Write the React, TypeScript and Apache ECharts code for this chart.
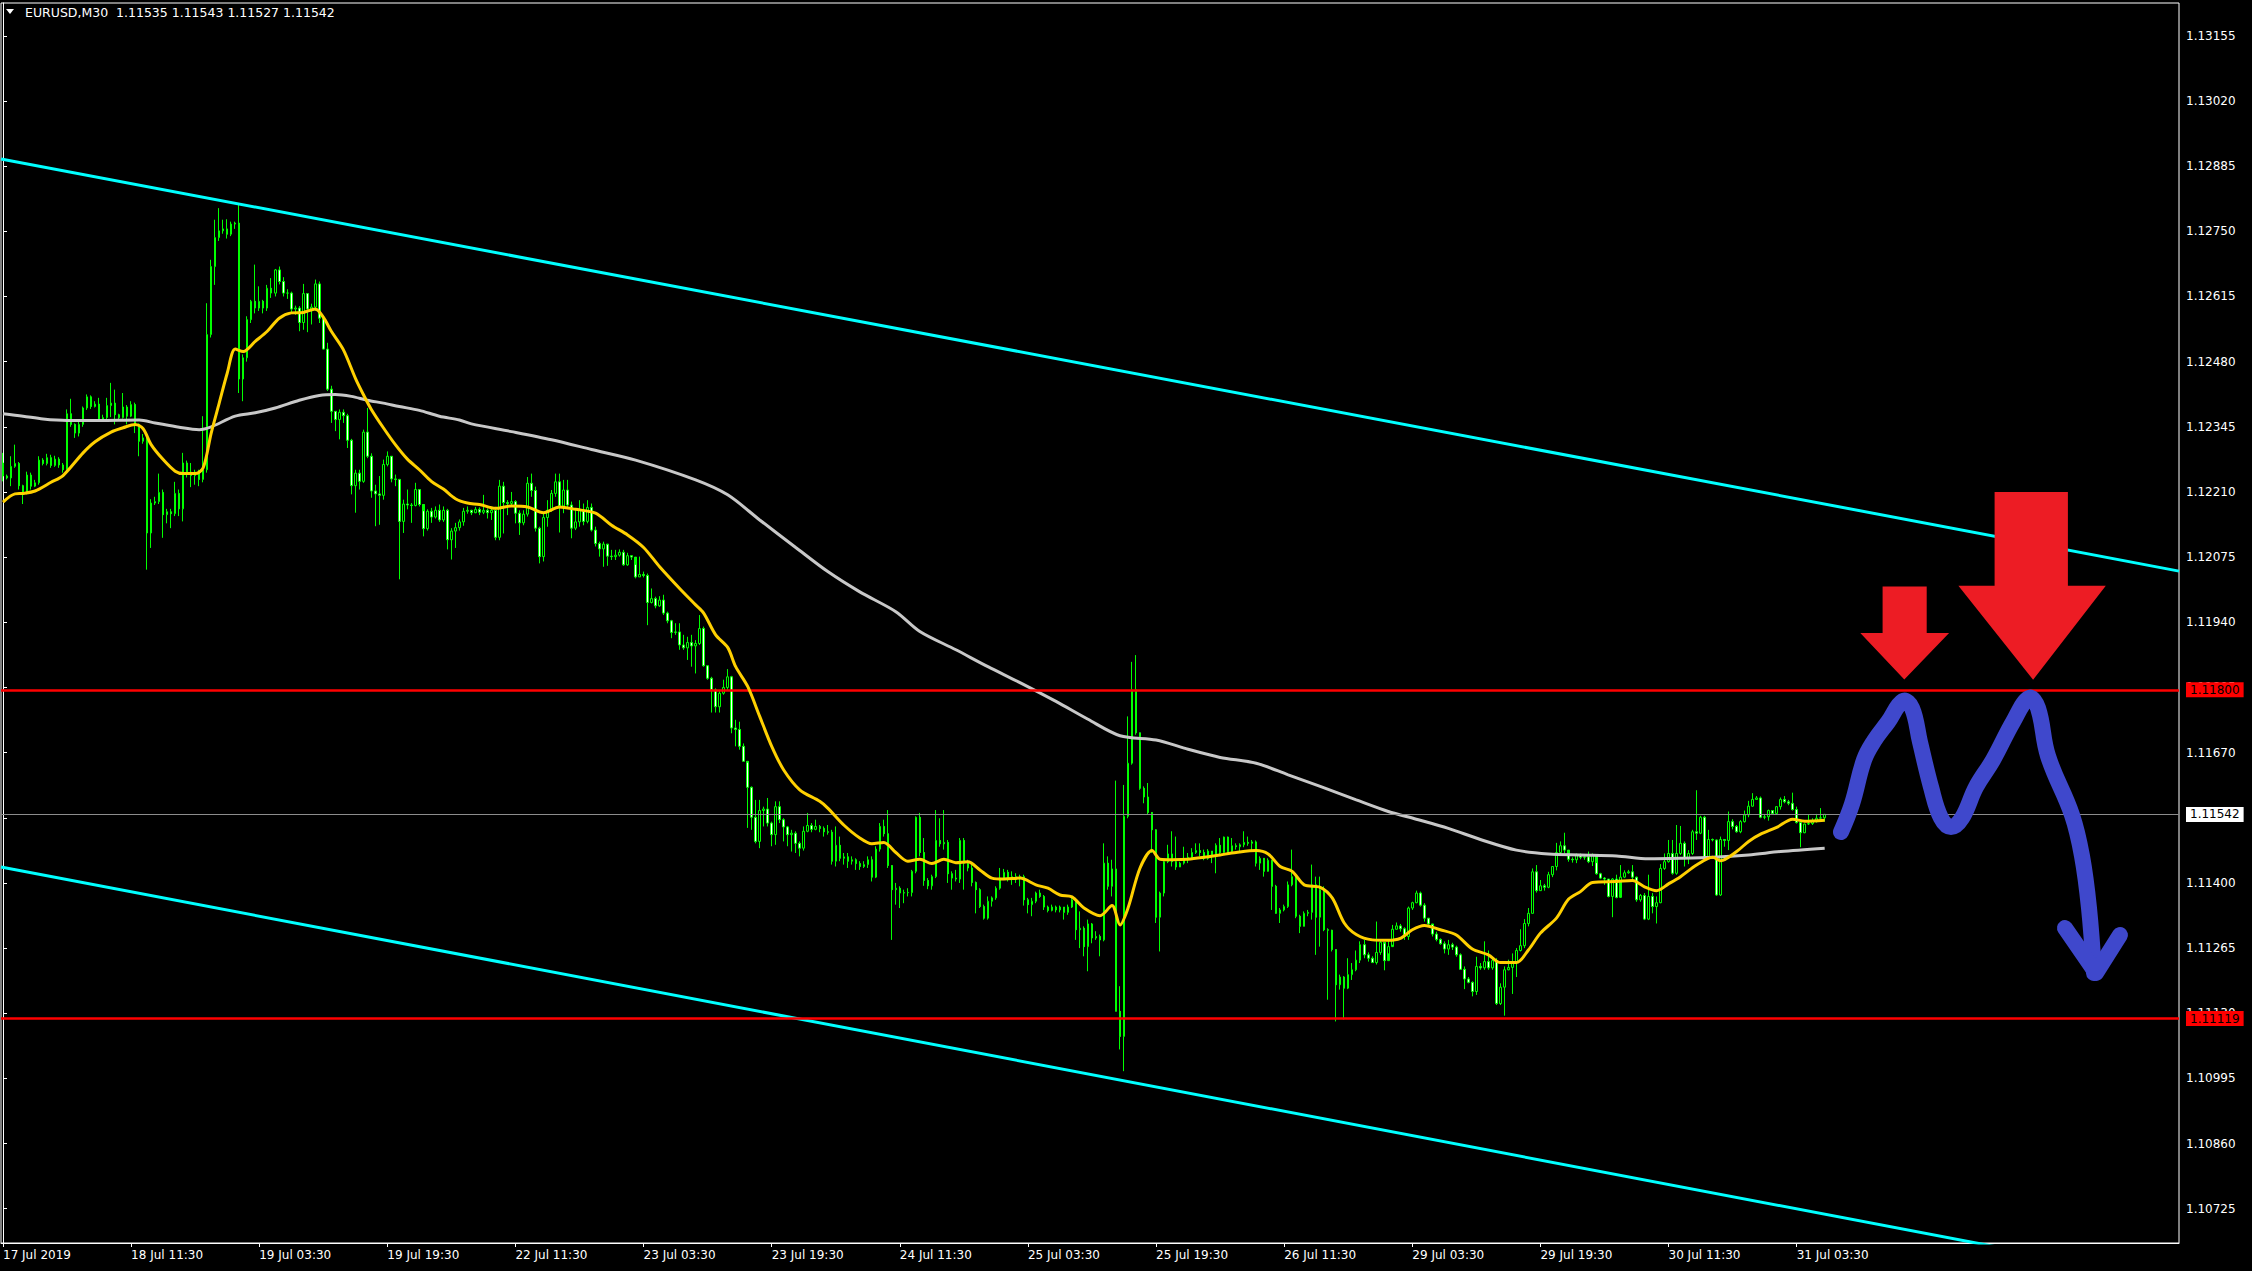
import React, { useEffect, useRef } from "react";
import * as echarts from "echarts";

const FONT = "DejaVu Sans";

// ---- candle data (EURUSD M30, 17 Jul 19:30 -> 31 Jul 07:30) ----
const firstOpen = 1.1227;
const closes = [
  1.12243,1.12239,1.12263,1.12269,1.12223,1.12209,1.12245,1.12222,1.12229,1.12276,
  1.12269,1.12281,1.12265,1.12278,1.12266,1.12256,1.12372,1.1235,1.12332,1.1235,
  1.12384,1.12407,1.12387,1.12392,1.12361,1.12364,1.12389,1.12394,1.1237,1.12364,
  1.12386,1.12367,1.12391,1.1235,1.12315,1.12322,1.12125,1.12187,1.1219,1.12209,
  1.12163,1.12169,1.12165,1.12207,1.12175,1.1227,1.12251,1.12244,1.12251,1.12236,
  1.12256,1.12536,1.12677,1.12737,1.12751,1.12755,1.12744,1.12765,1.12767,1.12444,
  1.12488,1.12567,1.12605,1.12591,1.12605,1.12591,1.12632,1.12622,1.1267,1.12646,
  1.12622,1.12622,1.12589,1.12591,1.12561,1.12621,1.12589,1.12593,1.12641,1.1257,
  1.12506,1.12423,1.12377,1.1236,1.12375,1.12368,1.12317,1.12223,1.12249,1.12232,
  1.12334,1.12284,1.12212,1.12206,1.12203,1.12267,1.12284,1.12237,1.12236,1.12149,
  1.12185,1.12183,1.12182,1.12215,1.12184,1.12134,1.1217,1.12158,1.12172,1.12152,
  1.12172,1.12111,1.12129,1.12136,1.12148,1.1217,1.12172,1.12167,1.12174,1.12168,
  1.12172,1.12167,1.12172,1.12116,1.12222,1.12188,1.12186,1.1219,1.12166,1.12146,
  1.12164,1.12228,1.12213,1.12135,1.12076,1.12157,1.12172,1.12207,1.12231,1.12181,
  1.12214,1.12183,1.12135,1.12148,1.12172,1.12149,1.12178,1.12131,1.12103,1.12092,
  1.12102,1.12077,1.12076,1.12079,1.12085,1.12059,1.12078,1.12075,1.12034,1.12039,
  1.12037,1.11981,1.11989,1.11974,1.11986,1.11959,1.11943,1.11919,1.1192,1.11893,
  1.11887,1.11898,1.11891,1.11896,1.11927,1.1185,1.11824,1.118,1.11765,1.11793,
  1.11805,1.11827,1.11721,1.11718,1.11683,1.11652,1.11598,1.11536,1.11486,1.1155,
  1.11553,1.11524,1.115,1.11558,1.11531,1.11516,1.115,1.11503,1.11482,1.11472,
  1.11507,1.11519,1.11511,1.11517,1.11513,1.11506,1.11505,1.11445,1.11478,1.11451,
  1.11454,1.11445,1.11448,1.1144,1.11434,1.11438,1.11448,1.11412,1.1147,1.11517,
  1.11502,1.11436,1.11386,1.11389,1.11379,1.1138,1.1138,1.11424,1.11536,1.11463,
  1.11405,1.11394,1.11413,1.11488,1.11481,1.11484,1.11419,1.1141,1.11408,1.11488,
  1.11441,1.11431,1.11401,1.11386,1.11351,1.11327,1.11362,1.11369,1.11389,1.1141,
  1.11422,1.1141,1.11413,1.1141,1.11413,1.11365,1.11355,1.11362,1.11379,1.11372,
  1.1135,1.11343,1.1135,1.11344,1.1135,1.11339,1.1135,1.11365,1.11303,1.11306,
  1.11268,1.11315,1.11286,1.11289,1.11282,1.11441,1.11393,1.11429,1.11134,1.11082,
  1.11538,1.11648,1.118,1.11711,1.11596,1.11578,1.11546,1.1151,1.11329,1.11379,
  1.11444,1.1146,1.11444,1.11433,1.11441,1.11449,1.11453,1.11463,1.11467,1.11463,
  1.11451,1.11466,1.11458,1.11478,1.11463,1.11495,1.11465,1.11477,1.11475,1.11479,
  1.11484,1.11482,1.11485,1.11441,1.11451,1.11424,1.11447,1.11393,1.11337,1.11344,
  1.11351,1.11396,1.11413,1.11331,1.1131,1.11337,1.11339,1.11396,1.11329,1.11386,
  1.11303,1.11302,1.11262,1.11189,1.11205,1.11182,1.1121,1.1122,1.1124,1.11272,
  1.11251,1.11244,1.11235,1.11256,1.11277,1.11239,1.11268,1.11304,1.11311,1.11305,
  1.11289,1.11348,1.11359,1.11379,1.11354,1.11327,1.11315,1.11294,1.11283,1.11274,
  1.11263,1.11272,1.11267,1.11251,1.11221,1.11201,1.11194,1.11175,1.11227,1.11224,
  1.11237,1.11224,1.11239,1.1115,1.11184,1.1122,1.11225,1.11235,1.1126,1.1127,
  1.11316,1.11337,1.11423,1.11384,1.11394,1.11391,1.11417,1.11434,1.11463,1.11477,
  1.11468,1.11449,1.11448,1.11458,1.11453,1.11454,1.11444,1.11458,1.11419,1.1141,
  1.11408,1.11372,1.11408,1.1137,1.11412,1.11421,1.11423,1.11412,1.11365,1.11374,
  1.11325,1.11372,1.11351,1.11359,1.1143,1.11444,1.11461,1.1142,1.11461,1.11482,
  1.11451,1.11461,1.11506,1.11503,1.11536,1.11453,1.1149,1.11489,1.11375,1.1149,
  1.11488,1.11527,1.11517,1.11506,1.11527,1.11541,1.11559,1.11573,1.11576,1.11536,
  1.11537,1.1155,1.11544,1.11558,1.11573,1.11568,1.11565,1.11552,1.11525,1.11504,
  1.11522,1.11523,1.11527,1.11534,1.11535,1.11542,
];
const highs = [
  1.12291,1.12246,1.12284,1.12308,1.12272,1.12225,1.12252,1.1225,1.12235,1.12284,
  1.1228,1.12289,1.12287,1.12285,1.12282,1.1227,1.12381,1.12403,1.12352,1.12356,
  1.12387,1.12412,1.1241,1.12398,1.12405,1.1237,1.12405,1.12436,1.12422,1.12372,
  1.12415,1.1239,1.12398,1.12395,1.12352,1.1233,1.12326,1.12195,1.122,1.12248,
  1.12215,1.12175,1.12175,1.12231,1.12215,1.12291,1.12275,1.1227,1.12256,1.12256,
  1.12367,1.12601,1.12691,1.12774,1.12798,1.12774,1.12775,1.1277,1.1277,1.12808,
  1.12495,1.12574,1.12608,1.12681,1.12636,1.12608,1.12639,1.12653,1.12672,1.12677,
  1.12655,1.1263,1.12625,1.12596,1.12595,1.12641,1.12621,1.126,1.1265,1.12646,
  1.12575,1.12519,1.1243,1.12377,1.12381,1.12381,1.12372,1.1232,1.12256,1.12256,
  1.12339,1.12384,1.1229,1.12225,1.12243,1.12277,1.12294,1.12284,1.12246,1.12237,
  1.12194,1.12215,1.12187,1.12229,1.12215,1.1217,1.12174,1.12177,1.1218,1.12184,
  1.1218,1.12175,1.12135,1.12146,1.12153,1.12177,1.1218,1.12173,1.12179,1.12178,
  1.12204,1.12176,1.12179,1.12179,1.12235,1.12231,1.12193,1.1221,1.12193,1.12172,
  1.12172,1.12241,1.12248,1.12221,1.12138,1.12166,1.12193,1.12214,1.12248,1.12248,
  1.12235,1.12235,1.1219,1.12172,1.12193,1.12186,1.12193,1.12186,1.12138,1.12107,
  1.12107,1.121,1.1209,1.1209,1.12091,1.1209,1.12084,1.12079,1.12059,1.12076,
  1.12045,1.12041,1.1201,1.11993,1.11994,1.11997,1.11962,1.11945,1.11938,1.11938,
  1.11914,1.1191,1.11914,1.11903,1.11955,1.11931,1.11851,1.11827,1.11803,1.118,
  1.11821,1.11843,1.11829,1.11738,1.11734,1.11689,1.11649,1.116,1.11572,1.11572,
  1.11558,1.11576,1.11527,1.11569,1.11569,1.11534,1.11518,1.1151,1.11507,1.11486,
  1.11517,1.11545,1.11524,1.11531,1.1152,1.11517,1.1152,1.1151,1.11517,1.11496,
  1.11462,1.11462,1.11455,1.11451,1.11445,1.11445,1.11455,1.11455,1.11476,1.11524,
  1.11531,1.11551,1.11424,1.114,1.11393,1.11386,1.11389,1.11427,1.11538,1.11545,
  1.11493,1.1141,1.11417,1.11551,1.11534,1.11551,1.11489,1.11424,1.11427,1.11493,
  1.11493,1.11448,1.11438,1.11403,1.11389,1.11355,1.11372,1.11372,1.11393,1.11431,
  1.11429,1.11427,1.11424,1.1142,1.11417,1.11417,1.11369,1.11369,1.11382,1.11386,
  1.11375,1.11353,1.11355,1.11353,1.11353,1.11344,1.11355,1.11369,1.11369,1.11341,
  1.1131,1.11324,1.11317,1.113,1.11293,1.11482,1.11455,1.11448,1.11612,1.11186,
  1.11603,1.11745,1.11858,1.11872,1.1171,1.116,1.11607,1.11544,1.11511,1.11382,
  1.11448,1.11479,1.11507,1.11496,1.11444,1.11475,1.11462,1.11472,1.11482,1.11482,
  1.11469,1.1147,1.11465,1.11482,1.11493,1.11496,1.11496,1.11493,1.11482,1.11482,
  1.11507,1.11496,1.11489,1.11488,1.11455,1.11451,1.11451,1.11448,1.11396,1.11348,
  1.11355,1.11403,1.11469,1.11417,1.11334,1.11341,1.11344,1.11438,1.11413,1.11413,
  1.11393,1.11306,1.11303,1.11262,1.1121,1.11207,1.11244,1.11234,1.1126,1.11279,
  1.11282,1.11256,1.11248,1.1132,1.11282,1.11274,1.11282,1.11313,1.11318,1.11315,
  1.11308,1.11351,1.11361,1.11384,1.11382,1.11358,1.11327,1.11313,1.11299,1.11285,
  1.11279,1.11282,1.11276,1.1127,1.11254,1.11227,1.11205,1.11196,1.11247,1.11234,
  1.11279,1.1126,1.11247,1.11244,1.11192,1.11227,1.11241,1.11254,1.11265,1.11304,
  1.11325,1.11348,1.1143,1.11437,1.11406,1.11398,1.11423,1.11435,1.11483,1.11486,
  1.11504,1.1146,1.11453,1.11461,1.11461,1.11458,1.11465,1.11461,1.11441,1.11421,
  1.11412,1.11408,1.1141,1.11417,1.11437,1.11426,1.11427,1.11437,1.11413,1.11377,
  1.11379,1.11417,1.11379,1.11372,1.11439,1.11461,1.11489,1.11489,1.1152,1.11518,
  1.11486,1.11468,1.1151,1.11592,1.11539,1.11539,1.1151,1.11492,1.1149,1.11496,
  1.1149,1.11548,1.11532,1.1152,1.1153,1.1155,1.1157,1.11586,1.1158,1.11579,
  1.11541,1.11552,1.11551,1.11559,1.11577,1.1158,1.11572,1.11587,1.11558,1.11527,
  1.11523,1.11541,1.11534,1.11543,1.11555,1.11543,
];
const lows = [
  1.12232,1.12236,1.12222,1.1226,1.12215,1.12185,1.12205,1.12215,1.1222,1.12225,
  1.12265,1.12265,1.1226,1.12262,1.1226,1.1225,1.1225,1.12345,1.12322,1.12325,
  1.12345,1.1238,1.12382,1.12385,1.12358,1.12358,1.1236,1.12365,1.1235,1.12358,
  1.12362,1.1235,1.12365,1.12332,1.12284,1.1231,1.12049,1.12094,1.12183,1.12185,
  1.12115,1.12145,1.12135,1.1216,1.1216,1.12149,1.1224,1.1222,1.12225,1.12222,
  1.1223,1.1225,1.1253,1.12639,1.1273,1.12745,1.12735,1.1274,1.12755,1.12415,
  1.12398,1.1248,1.1256,1.1258,1.12585,1.1258,1.12585,1.12612,1.12615,1.1264,
  1.12615,1.1261,1.1258,1.12577,1.12543,1.12546,1.12541,1.12557,1.12585,1.1256,
  1.12505,1.12419,1.12353,1.12336,1.12319,1.12353,1.12301,1.12205,1.12167,1.12215,
  1.12229,1.1228,1.12198,1.12139,1.12142,1.12194,1.12263,1.1223,1.12222,1.12029,
  1.12125,1.12174,1.12146,1.1218,1.1218,1.12118,1.1213,1.12146,1.12155,1.12148,
  1.12148,1.12091,1.1207,1.12094,1.1213,1.1214,1.12165,1.12162,1.12166,1.12162,
  1.12164,1.12155,1.12152,1.1211,1.1211,1.12124,1.12162,1.12179,1.12145,1.12121,
  1.12141,1.12159,1.122,1.12128,1.12062,1.12066,1.12138,1.12169,1.122,1.12126,
  1.12166,1.12176,1.12114,1.12131,1.12138,1.12141,1.12145,1.12128,1.12097,1.12076,
  1.12055,1.12057,1.12069,1.12069,1.12076,1.12057,1.12057,1.12069,1.12031,1.12034,
  1.12033,1.11934,1.11979,1.11969,1.11972,1.11955,1.11938,1.11907,1.11914,1.11883,
  1.11883,1.11862,1.11848,1.11834,1.11893,1.11848,1.11821,1.11753,1.11753,1.11753,
  1.1179,1.118,1.1171,1.11683,1.11676,1.11652,1.11514,1.1151,1.11482,1.11472,
  1.11517,1.11517,1.11476,1.11479,1.11524,1.11486,1.11476,1.11465,1.11462,1.11455,
  1.11467,1.11505,1.11505,1.11509,1.11505,1.11496,1.115,1.11438,1.11434,1.11445,
  1.11438,1.11431,1.11438,1.11427,1.11427,1.11431,1.11431,1.11403,1.1141,1.11465,
  1.11496,1.11431,1.11282,1.11355,1.11348,1.11358,1.11372,1.11372,1.1142,1.11455,
  1.11394,1.11387,1.11386,1.1141,1.11475,1.11469,1.114,1.11386,1.11403,1.114,
  1.11386,1.11424,1.11393,1.11337,1.11348,1.11324,1.11324,1.11351,1.11365,1.11386,
  1.11406,1.11403,1.11396,1.114,1.11393,1.11353,1.11337,1.11331,1.11358,1.11369,
  1.11344,1.11339,1.11341,1.11339,1.11339,1.11324,1.11334,1.11348,1.11282,1.11265,
  1.11248,1.11217,1.11275,1.11282,1.11248,1.11279,1.11386,1.11372,1.11134,1.11055,
  1.1101,1.11534,1.11645,1.11707,1.11593,1.11565,1.11541,1.11462,1.11317,1.11258,
  1.11372,1.11441,1.11434,1.11427,1.11433,1.11438,1.11441,1.11448,1.1146,1.11455,
  1.11447,1.11448,1.11441,1.1142,1.11458,1.1146,1.11462,1.11463,1.11469,1.11465,
  1.11474,1.11477,1.11467,1.11434,1.11427,1.11413,1.11427,1.11344,1.11336,1.11317,
  1.11341,1.11348,1.11393,1.11327,1.11296,1.1131,1.11331,1.11324,1.11251,1.11268,
  1.113,1.11158,1.11258,1.11113,1.11179,1.11117,1.1118,1.11199,1.11217,1.11234,
  1.11244,1.11237,1.11234,1.11231,1.11251,1.11219,1.11254,1.11272,1.11303,1.11299,
  1.11282,1.11282,1.11344,1.11358,1.11351,1.1132,1.1131,1.11289,1.11279,1.11272,
  1.11254,1.11251,1.11261,1.11247,1.1122,1.1118,1.11192,1.11165,1.11168,1.1122,
  1.1122,1.1122,1.1122,1.11147,1.11147,1.11125,1.11219,1.1117,1.11205,1.11258,
  1.11265,1.1131,1.11337,1.1138,1.11384,1.11384,1.11389,1.11412,1.11426,1.1146,
  1.11461,1.11444,1.11442,1.11441,1.11449,1.11448,1.11441,1.11435,1.11417,1.11408,
  1.11396,1.1137,1.11329,1.11368,1.11406,1.1141,1.11419,1.11408,1.11361,1.11361,
  1.11323,1.11323,1.11337,1.11316,1.11358,1.11427,1.11442,1.11417,1.11417,1.11458,
  1.11434,1.11439,1.11458,1.11489,1.11501,1.11451,1.11451,1.11486,1.11373,1.11373,
  1.11475,1.11468,1.11511,1.11504,1.11503,1.11525,1.11536,1.11558,1.11572,1.11534,
  1.11532,1.11529,1.11541,1.11543,1.11552,1.11565,1.11561,1.1155,1.11523,1.11474,
  1.11503,1.1152,1.1152,1.11525,1.11532,1.11527,
];

// ---- moving averages: [bar index, price] ----
const fastMA = [
  [0,1.12189],[3,1.12206],[5,1.12207],[8,1.12212],[12,1.1223],[15,1.12244],[20,1.12291],[23,1.12314],
  [27,1.12334],[30,1.12343],[33,1.1235],[35,1.12341],[37,1.12308],[40,1.12277],[43,1.12253],[45,1.12248],
  [48,1.12248],[50,1.1226],[52,1.12332],[54,1.12394],[56,1.12456],[58,1.12506],[60,1.12501],[63,1.12522],
  [66,1.12543],[69,1.1257],[72,1.12581],[75,1.12582],[78,1.12589],[80,1.12572],[82,1.12543],[85,1.12505],
  [88,1.12446],[90,1.12412],[92,1.12381],[95,1.12343],[98,1.12308],[101,1.12278],[104,1.12256],[107,1.12232],
  [110,1.12216],[113,1.12196],[116,1.12187],[119,1.12184],[123,1.12176],[127,1.12181],[131,1.12179],[135,1.12167],
  [139,1.12179],[143,1.12174],[148,1.12166],[152,1.12141],[156,1.12121],[160,1.12095],[164,1.12055],[169,1.1201],
  [173,1.11976],[175,1.11959],[178,1.11914],[181,1.11888],[183,1.11848],[186,1.11807],[189,1.11745],[192,1.11683],
  [195,1.11634],[199,1.11593],[204,1.11569],[206,1.11555],[210,1.1152],[214,1.11493],[217,1.11481],[220,1.11484],
  [223,1.11463],[226,1.11445],[229,1.11449],[232,1.1144],[235,1.11449],[238,1.11442],[241,1.11444],[244,1.11427],
  [247,1.1141],[250,1.11408],[254,1.1141],[258,1.11396],[261,1.11389],[264,1.11375],[267,1.11371],[270,1.11348],
  [274,1.11332],[277,1.11353],[279,1.11313],[281,1.11348],[284,1.11431],[287,1.11467],[289,1.11449],[292,1.11448],
  [296,1.11449],[300,1.11453],[304,1.11458],[308,1.11463],[313,1.11467],[316,1.1146],[319,1.11434],[322,1.11424],
  [325,1.11396],[329,1.11391],[332,1.11369],[335,1.11317],[338,1.11293],[342,1.11282],[346,1.11281],[349,1.11285],
  [352,1.11303],[355,1.11312],[359,1.11303],[363,1.11292],[367,1.11263],[371,1.11251],[374,1.11235],[378,1.11235],
  [381,1.11261],[384,1.11296],[388,1.11327],[391,1.11366],[394,1.11382],[397,1.11401],[403,1.11403],[407,1.11405],
  [410,1.11392],[413,1.11384],[416,1.11398],[419,1.11413],[423,1.11437],[427,1.11453],[429,1.11446],[433,1.11465],
  [436,1.11486],[439,1.11501],[443,1.11515],[447,1.11532],[450,1.11528],[455,1.1153],
];
const slowMA = [
  [0,1.12372],[5,1.12367],[10,1.12361],[16,1.12358],[24,1.12358],[34,1.12359],[38,1.12353],[44,1.12344],
  [49,1.12339],[52,1.12345],[58,1.12367],[63,1.12374],[68,1.12384],[74,1.124],[79,1.1241],[83,1.12412],
  [87,1.12408],[91,1.124],[95,1.12394],[99,1.12387],[104,1.12379],[109,1.12367],[114,1.12359],[117,1.12351],
  [127,1.12335],[137,1.12318],[147,1.12298],[158,1.12276],[173,1.12235],[181,1.12204],[189,1.12152],[198,1.12095],
  [206,1.12045],[214,1.12003],[223,1.11962],[229,1.11921],[238,1.11883],[246,1.11848],[254,1.11815],[263,1.11776],
  [271,1.11739],[279,1.11705],[288,1.11696],[296,1.11677],[304,1.1166],[313,1.11648],[321,1.11624],[329,1.116],
  [338,1.11572],[346,1.11548],[353,1.11532],[361,1.11513],[369,1.1149],[378,1.11468],[386,1.1146],[394,1.11458],
  [403,1.11456],[411,1.1145],[419,1.11451],[427,1.11453],[436,1.11458],[444,1.11465],[455,1.11472],
];

// ---- axes, levels, channel ----
const timeLabels = [
  "17 Jul 2019","18 Jul 11:30","19 Jul 03:30","19 Jul 19:30","22 Jul 11:30","23 Jul 03:30",
  "23 Jul 19:30","24 Jul 11:30","25 Jul 03:30","25 Jul 19:30","26 Jul 11:30","29 Jul 03:30",
  "29 Jul 19:30","30 Jul 11:30","31 Jul 03:30",
];
const labelEvery = 32;
const barSlots = 544;
const priceTicks = [
  1.13155,1.1302,1.12885,1.1275,1.12615,1.1248,1.12345,1.1221,1.12075,1.1194,
  1.11805,1.1167,1.11535,1.114,1.11265,1.1113,1.10995,1.1086,1.10725,
];
const yMin = 1.10654;
const yMax = 1.13223;
const resistance = 1.118;
const support = 1.11119;
const lastPrice = 1.11542;
const upperChannel = [[-0.5, 1.129], [543.5, 1.12046]];
const lowerChannel = [[-0.5, 1.11433], [543.5, 1.10574]];
const headerText = "EURUSD,M30  1.11535 1.11543 1.11527 1.11542";

// hand-drawn annotation (screen drawing, pixels)
const scribble = [
  [1841,832],[1852,804],[1864,760],[1874,741],[1888,722],[1903,701],[1912,708],[1920,742],
  [1931,787],[1941,818],[1951,827],[1962,818],[1976,787],[1993,760],[2013,722],[2029,698],
  [2038,708],[2048,756],[2072,815],[2082,856],[2089,908],[2094,973],
];
const scribbleHead = [[2065,928],[2096,973],[2120,935]];
const smallArrow = [[1882.6,586.4],[1926.7,586.4],[1926.7,632.9],[1949.1,632.9],[1904.3,679.4],[1860.3,632.9],[1882.6,632.9]];
const bigArrow = [[1994.6,492],[2067.9,492],[2067.9,585.7],[2105.8,585.7],[2033.1,679.7],[1958.4,585.7],[1994.6,585.7]];

export default function App() {
  const ref = useRef<HTMLDivElement>(null);
  useEffect(() => {
    document.body.style.margin = "0";
    document.body.style.background = "#000";
    const chart = echarts.init(ref.current as HTMLDivElement, null, { renderer: "svg" });
    const candles = closes.map((c, i) => [i === 0 ? firstOpen : closes[i - 1], c, lows[i], highs[i]]);
    const cats = Array.from({ length: barSlots }, (_, i) => String(i));
    const showIdx = (idx: number) => idx % labelEvery === 0 && idx / labelEvery < timeLabels.length;
    const tagLabel = (bg: string) => ({
      show: true,
      position: "end",
      distance: 7,
      formatter: (p: any) => Number(p.value).toFixed(5),
      backgroundColor: bg,
      color: "#000",
      padding: [2, 4, 1, 4],
      fontFamily: FONT,
      fontSize: 12,
    });
    const option: any = {
      animation: false,
      backgroundColor: "#000",
      grid: { left: 1, right: 73, top: 3, bottom: 28, show: true, borderColor: "#fff", borderWidth: 1 },
      xAxis: [
        {
          type: "category",
          data: cats,
          boundaryGap: true,
          axisLine: { show: true, lineStyle: { color: "#fff", width: 1 } },
          axisTick: { show: true, interval: (i: number) => showIdx(i), alignWithLabel: true, length: 4, lineStyle: { color: "#fff" } },
          axisLabel: {
            interval: (i: number) => showIdx(i),
            formatter: (_v: string, i: number) => (showIdx(i) ? timeLabels[i / labelEvery] : ""),
            align: "left",
            color: "#fff",
            fontFamily: FONT,
            fontSize: 12,
            margin: 6,
          },
          splitLine: { show: false },
        },
        { type: "value", min: -0.5, max: 543.5, show: false },
      ],
      yAxis: {
        type: "value",
        position: "right",
        min: yMin,
        max: yMax,
        axisLine: { show: true, lineStyle: { color: "#fff", width: 1 } },
        axisTick: { show: true, customValues: priceTicks, length: 4, lineStyle: { color: "#fff" } },
        axisLabel: {
          customValues: priceTicks,
          formatter: (v: number) => v.toFixed(5),
          color: "#fff",
          fontFamily: FONT,
          fontSize: 12,
          margin: 7,
        },
        splitLine: { show: false },
      },
      series: [
        {
          type: "candlestick",
          xAxisIndex: 0,
          data: candles,
          barWidth: 2,
          itemStyle: { color: "#000", color0: "#fff", borderColor: "#00ff00", borderColor0: "#00ff00", borderWidth: 1 },
          z: 2,
          markLine: {
            symbol: "none",
            silent: true,
            animation: false,
            precision: 5,
            data: [
              { yAxis: lastPrice, lineStyle: { color: "#8c8c8c", width: 1, type: "solid" }, label: tagLabel("#ffffff") },
              { yAxis: resistance, lineStyle: { color: "#ff0000", width: 2.5, type: "solid" }, label: tagLabel("#ff0000") },
              { yAxis: support, lineStyle: { color: "#ff0000", width: 2.5, type: "solid" }, label: tagLabel("#ff0000") },
            ],
          },
        },
        { type: "line", xAxisIndex: 1, data: upperChannel, showSymbol: false, lineStyle: { color: "#00ffff", width: 3 }, z: 3 },
        { type: "line", xAxisIndex: 1, data: lowerChannel, showSymbol: false, lineStyle: { color: "#00ffff", width: 3 }, z: 3 },
        { type: "line", xAxisIndex: 1, data: slowMA, showSymbol: false, smooth: 0.3, lineStyle: { color: "#c8c8c8", width: 3 }, z: 4 },
        { type: "line", xAxisIndex: 1, data: fastMA, showSymbol: false, smooth: 0.3, lineStyle: { color: "#ffd000", width: 3 }, z: 5 },
      ],
      graphic: [
        { type: "polygon", z: 100, shape: { points: [[6, 9], [14, 9], [10, 14]] }, style: { fill: "#ffffff" } },
        { type: "text", z: 100, x: 25, y: 6, style: { text: headerText, fill: "#ffffff", font: `12.5px "${FONT}"` } },
        { type: "polygon", z: 100, shape: { points: smallArrow }, style: { fill: "#ed1c24" } },
        { type: "polygon", z: 100, shape: { points: bigArrow }, style: { fill: "#ed1c24" } },
        { type: "polyline", z: 101, shape: { points: scribble, smooth: 0.4 }, style: { stroke: "#3f48cc", lineWidth: 16, lineCap: "round", lineJoin: "round", fill: "none" } },
        { type: "polyline", z: 101, shape: { points: scribbleHead }, style: { stroke: "#3f48cc", lineWidth: 16, lineCap: "round", lineJoin: "round", fill: "none" } },
      ],
    };
    chart.setOption(option);
    return () => chart.dispose();
  }, []);
  return <div ref={ref} style={{ width: 2252, height: 1271, background: "#000" }} />;
}
